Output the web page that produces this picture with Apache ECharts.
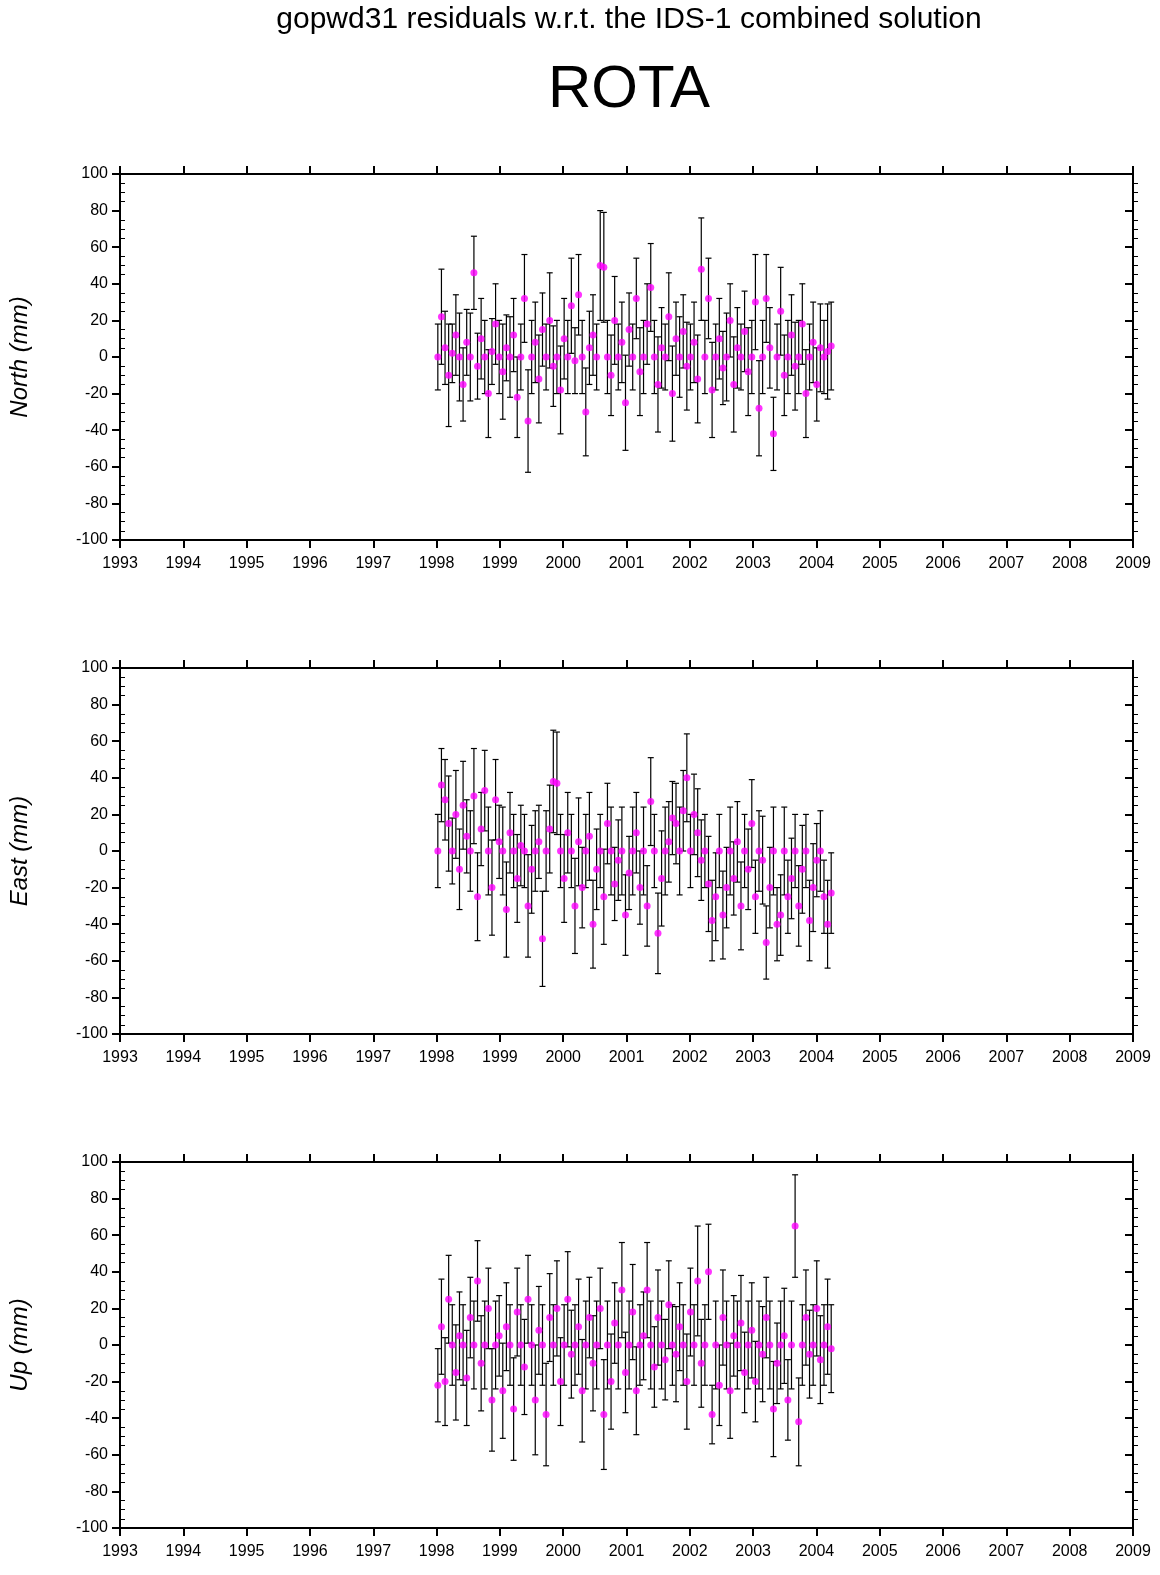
<!DOCTYPE html>
<html><head><meta charset="utf-8">
<script src="https://cdn.jsdelivr.net/npm/echarts@6/dist/echarts.min.js"></script>
<style>body{margin:0;background:#fff}#c{width:1160px;height:1575px}</style>
</head><body><div id="c"></div>
<script>
// sample epochs: every ~3 weeks from 1998.02
const t0 = 1998.02, dt = 0.057;
const northVal = [0,22,5,-10,2,12,0,-15,8,0,46,-5,10,0,-20,3,18,0,-8,5,
0,12,-22,0,32,-35,0,8,-12,15,0,20,-5,0,-18,10,0,28,-2,34,
0,-30,5,12,0,50,49,0,-10,20,0,8,-25,15,0,32,-8,0,18,38,
0,-15,5,0,22,-20,10,0,14,-5,0,8,-12,48,0,32,-18,0,10,-6,
0,20,-15,5,0,14,-8,0,30,-28,0,32,5,-42,0,25,-10,0,12,-5,
0,18,-20,0,8,-15,5,0,3,6];
const northErr = [18,26,20,28,16,22,24,20,18,24,20,18,22,20,24,18,22,20,26,18,
22,20,22,18,24,28,20,22,24,20,18,26,22,20,24,22,20,26,18,22,
20,24,20,22,18,30,30,20,22,24,18,22,26,20,18,22,24,20,22,24,
20,26,22,18,24,26,20,22,20,24,18,22,24,28,20,22,26,18,22,20,
24,20,26,22,18,22,24,20,26,26,20,24,22,20,18,24,22,20,22,24,
20,22,24,18,22,20,24,20,26,24];
const eastVal = [0,36,28,15,0,20,-10,25,8,0,30,-25,12,33,0,-20,28,5,0,-32,
10,0,-15,3,0,-30,-10,0,5,-48,0,12,38,37,0,-15,10,0,-30,5,
-20,0,8,-40,-10,0,-25,15,0,-18,-5,0,-35,-12,0,10,-20,0,-30,27,
0,-45,-15,0,5,18,15,0,22,40,0,20,10,-5,0,-18,-38,-25,0,-35,
-20,0,-15,5,-30,0,-10,15,-25,0,-5,-50,-20,0,-40,-35,0,-25,-15,0,
-30,-10,0,-38,-20,-5,0,-25,-40,-23];
const eastErr = [20,20,22,26,18,24,22,24,20,22,26,24,20,22,24,26,22,20,24,26,
22,20,24,22,20,28,24,22,20,26,22,24,28,28,20,24,22,20,26,24,
22,20,24,24,22,20,26,22,24,20,22,24,22,20,24,22,20,24,22,24,
20,22,26,24,22,20,22,24,22,24,20,22,24,22,20,26,22,24,20,24,
22,24,20,22,24,20,22,24,20,22,24,20,22,24,20,22,24,20,22,20,
22,24,20,22,24,20,22,20,24,22];
const upVal = [-22,10,-20,25,0,-15,5,0,-18,15,0,35,-10,0,20,-30,0,5,-25,10,
0,-35,18,0,-12,25,0,-30,8,0,-38,15,0,20,-20,0,25,-5,0,10,
-25,0,15,-10,0,20,-38,0,-20,12,0,30,-15,0,18,-25,0,5,30,0,
-12,15,0,-8,22,0,-5,10,0,-20,18,0,35,-10,0,40,-38,0,-22,15,
0,-25,5,0,12,-15,0,8,-20,0,-5,15,0,-35,-10,0,5,-30,0,65,
-42,0,15,-5,0,20,-8,0,10,-2];
const upErr = [20,26,24,24,22,26,24,22,26,22,24,22,26,24,22,28,24,22,26,24,
22,28,24,22,26,24,22,30,24,22,28,24,22,26,24,22,26,24,22,26,
28,24,22,26,24,22,30,24,26,22,24,26,22,24,26,24,22,24,26,24,
22,26,24,22,24,22,26,24,22,26,24,22,30,24,22,26,16,24,22,26,
24,26,22,24,26,22,24,26,22,24,26,22,24,26,22,24,26,22,24,28,
24,22,26,24,22,26,24,22,26,24];
const panels = [['North (mm)', northVal, northErr], ['East (mm)', eastVal, eastErr], ['Up (mm)', upVal, upErr]];
const tops = [174, 668, 1162];
const font = 'Liberation Sans, Arial, sans-serif';
const grid = [], xAxis = [], yAxis = [], series = [];
panels.forEach((p, i) => {
  grid.push({left: 116, right: 27, top: tops[i], height: 366});
  xAxis.push({type: 'value', gridIndex: i, min: 1993, max: 2009, interval: 1,
    axisLine: {onZero: false, lineStyle: {color: '#000', width: 2}},
    axisTick: {length: 8, lineStyle: {color: '#000', width: 2}},
    axisLabel: {color: '#000', fontSize: 16, fontFamily: font, margin: 16, formatter: v => String(v)},
    splitLine: {show: false}});
  xAxis.push({type: 'value', gridIndex: i, position: 'top', min: 1993, max: 2009, interval: 1,
    axisLine: {onZero: false, lineStyle: {color: '#000', width: 2}},
    axisTick: {length: 8, lineStyle: {color: '#000', width: 2}},
    axisLabel: {show: false}, splitLine: {show: false}});
  yAxis.push({type: 'value', gridIndex: i, min: -100, max: 100, interval: 20,
    name: p[0], nameLocation: 'middle', nameGap: 88,
    nameTextStyle: {fontSize: 24, fontStyle: 'italic', fontFamily: font, color: '#000'},
    axisLine: {onZero: false, lineStyle: {color: '#000', width: 2}},
    axisTick: {length: 8, lineStyle: {color: '#000', width: 2}},
    minorTick: {show: true, splitNumber: 4, length: -5, lineStyle: {color: '#000'}},
    axisLabel: {color: '#000', fontSize: 16, fontFamily: font, margin: 12},
    splitLine: {show: false}});
  yAxis.push({type: 'value', gridIndex: i, position: 'right', min: -100, max: 100, interval: 20,
    axisLine: {onZero: false, lineStyle: {color: '#000', width: 2}},
    axisTick: {inside: true, length: 8, lineStyle: {color: '#000', width: 2}},
    minorTick: {show: true, splitNumber: 4, length: -5, lineStyle: {color: '#000'}},
    axisLabel: {show: false}, splitLine: {show: false}});
  const pts = p[1].map((v, k) => [t0 + k * dt, v, p[2][k]]);
  series.push({type: 'custom', xAxisIndex: 2 * i, yAxisIndex: 2 * i, data: pts,
    renderItem: (params, api) => {
      const x = api.value(0), v = api.value(1), e = api.value(2);
      const a = api.coord([x, v + e]), b = api.coord([x, v - e]);
      const st = {stroke: '#000', lineWidth: 1.2};
      return {type: 'group', children: [
        {type: 'line', shape: {x1: a[0], y1: a[1], x2: b[0], y2: b[1]}, style: st},
        {type: 'line', shape: {x1: a[0] - 3, y1: a[1], x2: a[0] + 3, y2: a[1]}, style: st},
        {type: 'line', shape: {x1: b[0] - 3, y1: b[1], x2: b[0] + 3, y2: b[1]}, style: st}]};
    }});
  series.push({type: 'scatter', xAxisIndex: 2 * i, yAxisIndex: 2 * i, data: pts.map(d => [d[0], d[1]]),
    symbolSize: 7, itemStyle: {color: '#ff00ff'}, z: 5});
});
const chart = echarts.init(document.getElementById('c'));
chart.setOption({
  animation: false,
  title: [{text: 'gopwd31 residuals w.r.t. the IDS-1 combined solution', left: 624, textAlign: 'center', top: 0,
    textStyle: {fontSize: 30, fontWeight: 'normal', fontFamily: font, color: '#000'}},
    {text: 'ROTA', left: 624, textAlign: 'center', top: 55,
    textStyle: {fontSize: 60, fontWeight: 'normal', fontFamily: font, color: '#000'}}],
  grid, xAxis, yAxis, series
});
</script></body></html>
